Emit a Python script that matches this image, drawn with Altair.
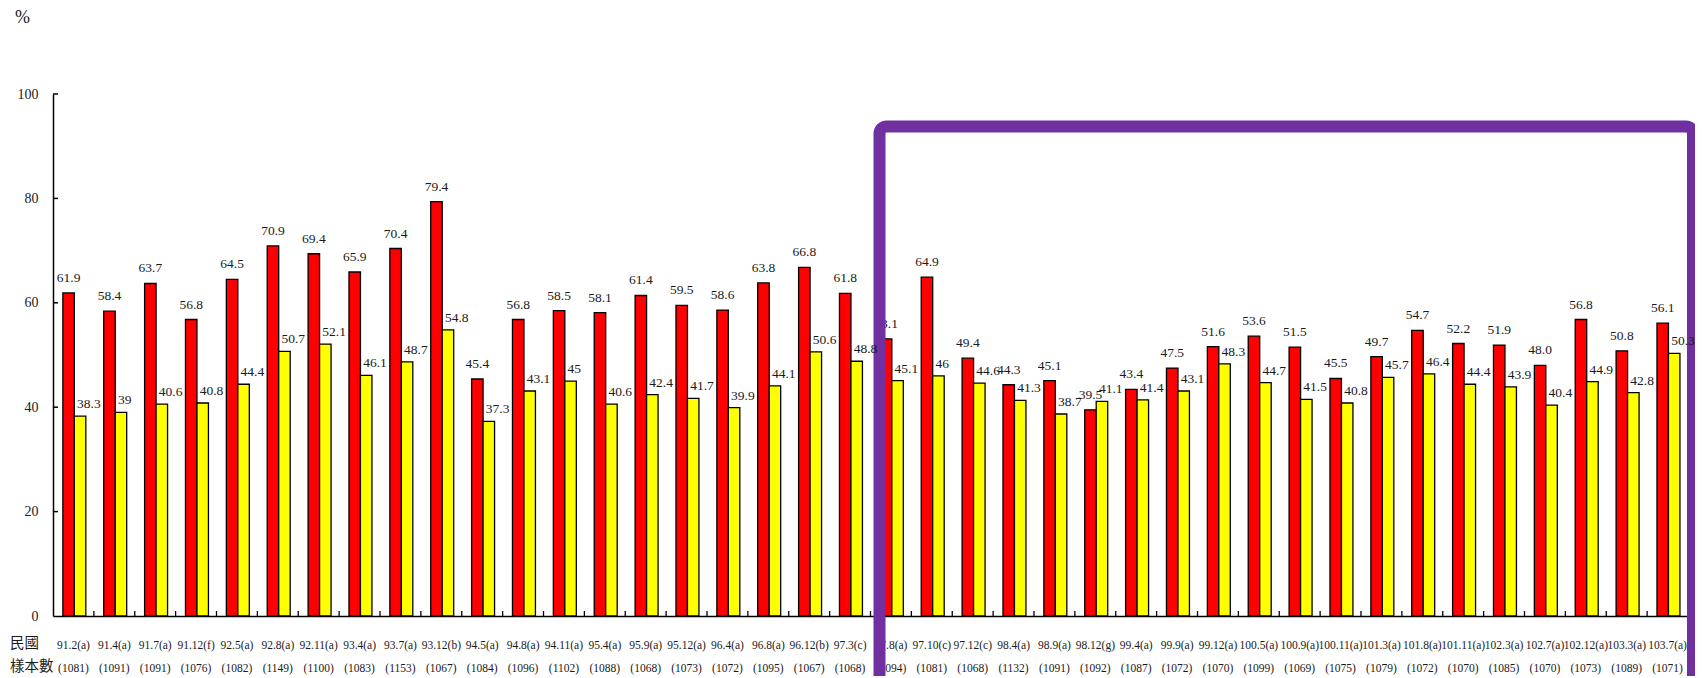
import altair as alt
import pandas as pd

dates = ["91.2(a)", "91.4(a)", "91.7(a)", "91.12(f)", "92.5(a)", "92.8(a)", "92.11(a)", "93.4(a)",
         "93.7(a)", "93.12(b)", "94.5(a)", "94.8(a)", "94.11(a)", "95.4(a)", "95.9(a)", "95.12(a)",
         "96.4(a)", "96.8(a)", "96.12(b)", "97.3(c)", "97.8(a)", "97.10(c)", "97.12(c)", "98.4(a)",
         "98.9(a)", "98.12(g)", "99.4(a)", "99.9(a)", "99.12(a)", "100.5(a)", "100.9(a)", "100.11(a)",
         "101.3(a)", "101.8(a)", "101.11(a)", "102.3(a)", "102.7(a)", "102.12(a)", "103.3(a)", "103.7(a)"]
samples = ["1081", "1091", "1091", "1076", "1082", "1149", "1100", "1083",
           "1153", "1067", "1084", "1096", "1102", "1088", "1068", "1073",
           "1072", "1095", "1067", "1068", "1094", "1081", "1068", "1132",
           "1091", "1092", "1087", "1072", "1070", "1099", "1069", "1075",
           "1079", "1072", "1070", "1085", "1070", "1073", "1089", "1071"]
red_labels = ["61.9", "58.4", "63.7", "56.8", "64.5", "70.9", "69.4", "65.9",
              "70.4", "79.4", "45.4", "56.8", "58.5", "58.1", "61.4", "59.5",
              "58.6", "63.8", "66.8", "61.8", "53.1", "64.9", "49.4", "44.3",
              "45.1", "39.5", "43.4", "47.5", "51.6", "53.6", "51.5", "45.5",
              "49.7", "54.7", "52.2", "51.9", "48.0", "56.8", "50.8", "56.1"]
yellow_labels = ["38.3", "39", "40.6", "40.8", "44.4", "50.7", "52.1", "46.1",
                 "48.7", "54.8", "37.3", "43.1", "45", "40.6", "42.4", "41.7",
                 "39.9", "44.1", "50.6", "48.8", "45.1", "46", "44.6", "41.3",
                 "38.7", "41.1", "41.4", "43.1", "48.3", "44.7", "41.5", "40.8",
                 "45.7", "46.4", "44.4", "43.9", "40.4", "44.9", "42.8", "50.3"]
y_ticks = [0, 20, 40, 60, 80, 100]
side_titles = ["民國", "樣本數"]

cats = [f"{d}\n({n})" for d, n in zip(dates, samples)]
rows = []
for c, r, y in zip(cats, red_labels, yellow_labels):
    rows.append({"cat": c, "series": "red", "value": float(r), "label": r})
    rows.append({"cat": c, "series": "yellow", "value": float(y), "label": y})
df = pd.DataFrame(rows)

W, H = 1635, 522
SERIF = "Liberation Serif"
TXT = "#1a1a1a"

x_enc = alt.X("cat:N", sort=cats,
              scale=alt.Scale(paddingInner=0, paddingOuter=0),
              axis=alt.Axis(title=None, labelExpr="split(datum.label, '\\n')", labelAngle=0,
                            labelFont=SERIF, labelFontSize=11.5, labelColor=TXT,
                            labelPadding=23, labelLineHeight=23, ticks=False,
                            domainColor="black", domainWidth=1.5, labelOverlap=False))
xoff = alt.XOffset("series:N", scale=alt.Scale(domain=["red", "yellow"], paddingInner=0,
                                                paddingOuter=0.78, align=0.55))
y_enc = alt.Y("value:Q", scale=alt.Scale(domain=[0, 100], nice=False),
              axis=alt.Axis(title=None, values=y_ticks, ticks=False, grid=False,
                            labelFont=SERIF, labelFontSize=14, labelColor=TXT,
                            labelPadding=15, domainColor="black", domainWidth=1.5))

base = alt.Chart(df)
bars = base.mark_bar(stroke="black", strokeWidth=1.3).encode(
    x=x_enc, xOffset=xoff, y=y_enc,
    color=alt.Color("series:N", scale=alt.Scale(domain=["red", "yellow"], range=["#FF0000", "#FFFF00"]),
                    legend=None))

red_txt = base.transform_filter(alt.datum.series == "red").mark_text(
    font=SERIF, fontSize=13.5, color=TXT, align="center", baseline="bottom", dy=-8
).encode(x=alt.X("cat:N", sort=cats), xOffset=alt.XOffset("series:N"), y=alt.Y("value:Q"), text="label:N")

yel_txt = base.transform_filter(alt.datum.series == "yellow").mark_text(
    font=SERIF, fontSize=13.5, color=TXT, align="left", baseline="bottom", dx=-3, dy=-5
).encode(x=alt.X("cat:N", sort=cats), xOffset=alt.XOffset("series:N"), y=alt.Y("value:Q"), text="label:N")

# small inward tick marks
ytick_df = pd.DataFrame({"v": y_ticks[1:]})
ytick = alt.Chart(ytick_df).mark_rule(color="black", strokeWidth=1.5).encode(
    y=alt.Y("v:Q"), x=alt.value(0), x2=alt.value(5))
xtick_df = pd.DataFrame({"cat": cats})
xtick = alt.Chart(xtick_df).mark_rule(color="black", strokeWidth=1.3).encode(
    x=alt.X("cat:N", sort=cats, bandPosition=1), y=alt.value(H), y2=alt.value(H - 5))

# annotations
pct = alt.Chart(pd.DataFrame({"t": ["%"]})).mark_text(
    font=SERIF, fontSize=18, color=TXT, align="left", baseline="middle").encode(
    text="t:N", x=alt.value(-38), y=alt.value(-76))
side_df = pd.DataFrame({"t": side_titles, "py": [H + 28, H + 51]})
side = alt.Chart(side_df).mark_text(font="Noto Sans CJK TC", fontSize=14.5, color=TXT,
                                    align="left", baseline="middle").encode(
    text="t:N", x=alt.value(-43), y=alt.Y("py:Q", scale=None))

frame = alt.Chart(pd.DataFrame({"a": [1]})).mark_rect(
    fill="white", fillOpacity=0, stroke="#7030A0", strokeWidth=12, cornerRadius=7
).encode(x=alt.value(826.5), x2=alt.value(1640), y=alt.value(32.5), y2=alt.value(620))

chart = alt.layer(bars, red_txt, ytick, xtick, pct, side, frame, yel_txt).properties(
    width=W, height=H,
    background="white",
    autosize=alt.AutoSizeParams(type="none"),
    padding={"left": 45, "top": 86, "right": 7, "bottom": 60},
).configure_view(strokeWidth=0, stroke=None)

chart.save("out.html", embed_options={"renderer": "svg", "actions": False})
